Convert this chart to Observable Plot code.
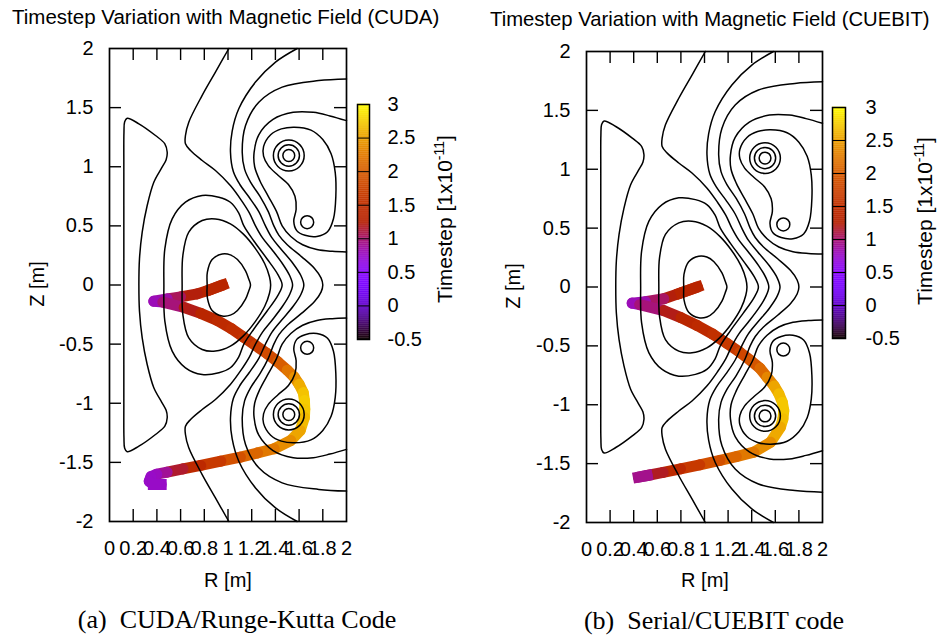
<!DOCTYPE html>
<html><head><meta charset="utf-8">
<script src="https://cdn.jsdelivr.net/npm/d3@7"></script>
<script src="https://cdn.jsdelivr.net/npm/@observablehq/plot@0.6"></script>
<style>
body{margin:0;background:#fff;}
#wrap{position:relative;width:941px;height:639px;overflow:hidden;background:#fff;}
#wrap svg{position:absolute;left:0;top:0;max-width:none;}
</style></head><body><div id="wrap"></div>
<script>
// ---------------- data ----------------
const xTicks = [0,0.2,0.4,0.6,0.8,1,1.2,1.4,1.6,1.8,2];
const yTicks = [-2,-1.5,-1,-0.5,0,0.5,1,1.5,2];
const cbTicks = [-0.5,0,0.5,1,1.5,2,2.5,3];

// Trajectory (a) CUDA : R [m], Z [m], timestep [1e-11]
const trajA_R = [0.955,0.85,0.74,0.60,0.487,0.374,0.45,0.63,0.77,0.91,1.03,1.13,1.23,1.33,1.42,1.50,1.56,1.60,1.635,1.645,1.648,1.645,1.61,1.53,1.39,1.25,1.105,0.94,0.77,0.62,0.487,0.40,0.35,0.335,0.37,0.436];
const trajA_Z = [0.0,-0.04,-0.075,-0.10,-0.117,-0.137,-0.145,-0.19,-0.24,-0.30,-0.37,-0.44,-0.51,-0.58,-0.65,-0.72,-0.78,-0.84,-0.91,-0.977,-1.05,-1.12,-1.23,-1.315,-1.385,-1.42,-1.456,-1.49,-1.526,-1.555,-1.583,-1.60,-1.62,-1.66,-1.687,-1.687];
const trajA_T = [1.35,1.35,1.3,1.15,0.95,0.75,0.85,1.1,1.3,1.4,1.45,1.5,1.6,1.75,1.9,2.1,2.3,2.5,2.65,2.75,2.75,2.7,2.6,2.45,2.3,2.15,2.0,1.75,1.5,1.3,1.0,0.8,0.75,0.75,0.75,0.75];

// Trajectory (b) CUEBIT
const trajB_R = [0.94,0.80,0.655,0.50,0.387,0.45,0.655,0.80,0.938,1.07,1.192,1.30,1.39,1.47,1.531,1.59,1.63,1.66,1.672,1.665,1.644,1.56,1.418,1.27,1.131,0.96,0.797,0.65,0.514,0.44];
const trajB_Z = [0.0,-0.05,-0.10,-0.125,-0.137,-0.15,-0.20,-0.26,-0.327,-0.40,-0.48,-0.555,-0.624,-0.69,-0.766,-0.84,-0.907,-0.98,-1.049,-1.12,-1.19,-1.318,-1.403,-1.44,-1.473,-1.51,-1.544,-1.575,-1.601,-1.615];
const trajB_T = [1.35,1.3,1.15,0.9,0.75,0.85,1.1,1.3,1.4,1.45,1.55,1.7,1.85,2.0,2.2,2.45,2.6,2.7,2.75,2.7,2.65,2.45,2.3,2.15,2.0,1.75,1.5,1.3,1.05,0.8];

// Flux contours, upper half (Z >= 0); the field is up-down symmetric.
// closed loops crossing Z = 0
const contourK1 = [[0.248,0],[0.253,0.221],[0.276,0.447],[0.318,0.672],[0.374,0.869],[0.44,0.99],[0.478,1.06],[0.487,1.123],[0.467,1.194],[0.388,1.264],[0.248,1.363],[0.149,1.41],[0.128,1.38],[0.122,1.29],[0.121,1.0],[0.121,0.5],[0.121,0]];
const contourC1 = [[0.824,0],[0.826,0.108],[0.866,0.215],[0.951,0.262],[1.02,0.255],[1.08,0.215],[1.148,0.12],[1.175,0.05],[1.19,0]];
const contourC2 = [[0.613,0],[0.619,0.249],[0.669,0.447],[0.782,0.545],[0.894,0.559],[1.02,0.517],[1.13,0.43],[1.23,0.31],[1.31,0.18],[1.35,0.07],[1.36,0]];
const contourC3 = [[0.459,0],[0.467,0.305],[0.529,0.559],[0.641,0.70],[0.782,0.757],[0.923,0.742],[1.02,0.70],[1.09,0.61],[1.134,0.5],[1.22,0.37],[1.33,0.22],[1.42,0.09],[1.457,0]];
// open lines crossing Z = 0 (edge to edge)
const contourK2 = [[1.545,0],[1.52,0.08],[1.46,0.18],[1.37,0.30],[1.29,0.40],[1.232,0.5],[1.18,0.61],[1.11,0.72],[1.02,0.841],[0.894,0.968],[0.782,1.053],[0.684,1.137],[0.641,1.194],[0.641,1.264],[0.669,1.377],[0.782,1.603],[0.894,1.80],[1.007,2.0]];
const contourA1 = [[1.64,0],[1.615,0.08],[1.55,0.18],[1.45,0.30],[1.37,0.40],[1.316,0.5],[1.26,0.62],[1.18,0.74],[1.10,0.85],[1.045,0.96],[1.021,1.123],[1.035,1.30],[1.091,1.49],[1.232,1.716],[1.401,1.885],[1.584,2.0]];
const contourA2 = [[1.80,0],[1.785,0.06],[1.73,0.14],[1.62,0.24],[1.50,0.34],[1.43,0.42],[1.387,0.5],[1.34,0.62],[1.27,0.75],[1.19,0.87],[1.14,0.98],[1.12,1.123],[1.148,1.349],[1.26,1.546],[1.457,1.673],[1.766,1.729],[2.0,1.743]];
// contours living in one half only
const contourA3 = [[2.0,0.28],[1.88,0.285],[1.75,0.30],[1.63,0.34],[1.53,0.41],[1.457,0.5],[1.41,0.62],[1.34,0.75],[1.27,0.88],[1.225,1.0],[1.22,1.12],[1.26,1.27],[1.38,1.40],[1.55,1.46],[1.72,1.46],[1.86,1.43],[2.0,1.39]];
const contourPeanut = [[1.30,1.17],[1.36,1.27],[1.45,1.32],[1.56,1.335],[1.70,1.31],[1.80,1.23],[1.87,1.11],[1.905,0.95],[1.91,0.75],[1.89,0.56],[1.84,0.45],[1.75,0.41],[1.65,0.42],[1.58,0.46],[1.555,0.54],[1.575,0.64],[1.565,0.75],[1.51,0.85],[1.42,0.93],[1.34,1.01],[1.30,1.09]];
// small rings round the coils (centre R, Z and radius, upper half)
const ringR = [1.513,1.513,1.513,1.668];
const ringZ = [1.095,1.095,1.095,0.531];
const ringRad = [0.05,0.09,0.13,0.055];

// ---------------- helpers ----------------
const gnuplot = t => {
  t = Math.max(0, Math.min(1, t));
  const r = Math.sqrt(t), g = t*t*t, b = Math.max(0, Math.sin(2*Math.PI*t));
  return `rgb(${Math.round(r*255)},${Math.round(g*255)},${Math.round(b*255)})`;
};
const colorOpts = {type: "linear", domain: [-0.5, 3], interpolate: gnuplot};
const mirror = pts => pts.map(([r, z]) => [r, -z]);

const openRows = [], closedRows = [];
let cid = 0;
function add(rows, pts) { pts.forEach(([R, Z]) => rows.push({R, Z, id: cid})); cid++; }
[contourK1, contourC1, contourC2, contourC3].forEach(u =>
  add(closedRows, u.concat(mirror(u).reverse().slice(1, -1))));
[contourK2, contourA1, contourA2].forEach(u =>
  add(openRows, mirror(u).reverse().concat(u.slice(1))));
add(openRows, contourA3); add(openRows, mirror(contourA3));
add(closedRows, contourPeanut); add(closedRows, mirror(contourPeanut));
const rings = [];
ringR.forEach((R, i) => {
  rings.push({R, Z: ringZ[i], rad: ringRad[i]});
  rings.push({R, Z: -ringZ[i], rad: ringRad[i]});
});

function segments(R, Z, T) {
  const s = [];
  for (let i = 0; i < R.length - 1; i++)
    s.push({x1: R[i], y1: Z[i], x2: R[i+1], y2: Z[i+1], t: (T[i] + T[i+1]) / 2});
  return s;
}

const FONT = "'Liberation Sans', Arial, Helvetica, sans-serif";
const wrap = document.getElementById("wrap");
const BAND = 11;
const LW = 1.5;

function mainPlot(c, segs) {
  const W = c.right + 20, H = c.bottom + 45;
  const pw = c.right - c.left, ph = c.bottom - c.top;
  const inner = xTicks.slice(1, -1), innerY = yTicks.slice(1, -1);
  const ends = [segs[0], segs[segs.length - 1]];
  return Plot.plot({
    width: W, height: H,
    marginLeft: c.left, marginTop: c.top, marginRight: W - c.right, marginBottom: H - c.bottom,
    x: {domain: [0, 2], ticks: xTicks, tickSize: 0, tickPadding: 19, tickFormat: d => String(d), label: null},
    y: {domain: [-2, 2], ticks: yTicks, tickSize: 0, tickPadding: 16, tickFormat: d => String(d), label: null},
    color: colorOpts,
    r: {type: "linear", domain: [0, 1], range: [0, pw / 2]},
    style: {background: "transparent", fontSize: "20px", fontFamily: FONT, color: "black", overflow: "visible"},
    marks: [
      Plot.link(segs, {x1: "x1", y1: "y1", x2: "x2", y2: "y2", stroke: "t", strokeWidth: BAND, strokeLinecap: "round"}),
      Plot.link(ends, {x1: "x1", y1: "y1", x2: "x2", y2: "y2", stroke: "t", strokeWidth: BAND, strokeLinecap: "square"}),
      Plot.line(openRows, {x: "R", y: "Z", z: "id", stroke: "black", strokeWidth: LW, curve: "catmull-rom"}),
      Plot.line(closedRows, {x: "R", y: "Z", z: "id", stroke: "black", strokeWidth: LW, curve: "catmull-rom-closed"}),
      Plot.dot(rings, {x: "R", y: "Z", r: "rad", stroke: "black", strokeWidth: LW, fill: "none"}),
      Plot.tickX(inner, {x: d => d, insetTop: ph - 12, stroke: "black", strokeWidth: 1.4}),
      Plot.tickX(inner, {x: d => d, insetBottom: ph - 12, stroke: "black", strokeWidth: 1.4}),
      Plot.tickY(innerY, {y: d => d, insetRight: pw - 12, stroke: "black", strokeWidth: 1.4}),
      Plot.tickY(innerY, {y: d => d, insetLeft: pw - 12, stroke: "black", strokeWidth: 1.4}),
      Plot.frame({stroke: "black", strokeWidth: 1.7})
    ]
  });
}

function colorBar(c) {
  const W = c.right + 60, H = c.bottom + 20;
  const steps = d3.range(-0.5, 3, 0.01);
  return Plot.plot({
    width: W, height: H,
    marginLeft: c.left, marginRight: W - c.right, marginTop: c.top, marginBottom: H - c.bottom,
    x: {domain: [0, 1], axis: null},
    y: {domain: [-0.5, 3], axis: "right", ticks: cbTicks, tickSize: 0, tickPadding: c.pad, tickFormat: d => String(d), label: null},
    color: colorOpts,
    style: {background: "transparent", fontSize: "20px", fontFamily: FONT, color: "black", overflow: "visible"},
    marks: [
      Plot.rect(steps, {x1: () => 0, x2: () => 1, y1: d => d, y2: d => d + 0.014, fill: d => d + 0.005}),
      Plot.ruleY(cbTicks, {stroke: "black", strokeWidth: 1}),
      Plot.frame({stroke: "black", strokeWidth: 1.5})
    ]
  });
}

function put(svg) {
  d3.select(svg).selectAll("text").style("font-size", "20px").style("font-family", FONT);
  wrap.appendChild(svg);
}
put(mainPlot({left: 109, top: 48, right: 346, bottom: 521}, segments(trajA_R, trajA_Z, trajA_T)));
put(colorBar({left: 357, right: 369, top: 104, bottom: 339, pad: 18}));
put(mainPlot({left: 586, top: 51, right: 822, bottom: 522}, segments(trajB_R, trajB_Z, trajB_T)));
put(colorBar({left: 832, right: 845, top: 107, bottom: 338, pad: 20}));

// ---------------- text overlay ----------------
const ov = d3.select(wrap).append("svg").attr("width", 941).attr("height", 639)
  .style("font-family", FONT).attr("fill", "black");
function txt(x, y, s, size, anchor, rot, family) {
  const t = ov.append("text").attr("x", x).attr("y", y).attr("font-size", size)
    .attr("text-anchor", anchor || "start").text(s);
  if (rot) t.attr("transform", `rotate(${rot},${x},${y})`);
  if (family) t.attr("font-family", family);
  return t;
}
txt(12, 24, "Timestep Variation with Magnetic Field (CUDA)", 20.5);
txt(490, 26, "Timestep Variation with Magnetic Field (CUEBIT)", 20.3);
txt(44, 284, "Z [m]", 20, "middle", -90);
txt(520, 286, "Z [m]", 20, "middle", -90);
txt(228, 587, "R [m]", 20, "middle");
txt(705, 587, "R [m]", 20, "middle");
function cbTitle(x, y) {
  const t = ov.append("text").attr("x", x).attr("y", y).attr("font-size", 21)
    .attr("text-anchor", "middle").attr("transform", `rotate(-90,${x},${y})`);
  t.append("tspan").text("Timestep [1x10");
  t.append("tspan").attr("dy", -8).attr("font-size", 14).text("-11");
  t.append("tspan").attr("dy", 8).text("]");
}
cbTitle(452, 219);
cbTitle(932, 221);
const SERIF = "'Liberation Serif', 'Times New Roman', serif";
txt(237, 628, "(a)\u2002CUDA/Runge-Kutta Code", 26, "middle", 0, SERIF);
txt(714, 629, "(b)\u2002Serial/CUEBIT code", 26, "middle", 0, SERIF);
</script></body></html>
